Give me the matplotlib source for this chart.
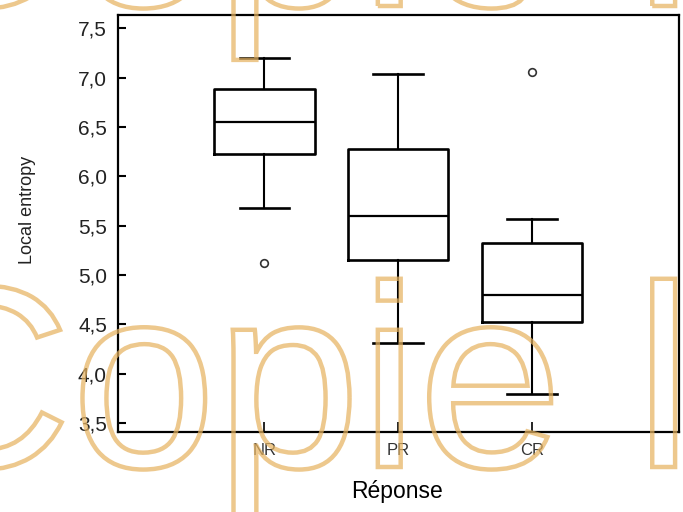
import matplotlib
matplotlib.use("Agg")
import matplotlib.pyplot as plt
import matplotlib.patheffects as pe

# Box-plot summary statistics per response group
categories = ["NR", "PR", "CR"]
whisker_low = [5.68, 4.31, 3.79]
quartile_1 = [6.23, 5.15, 4.52]
medians = [6.55, 5.60, 4.80]
quartile_3 = [6.89, 6.28, 5.32]
whisker_high = [7.20, 7.04, 5.57]
outliers = [[5.12], [], [7.06]]

y_ticks = [3.5, 4.0, 4.5, 5.0, 5.5, 6.0, 6.5, 7.0, 7.5]
y_tick_labels = [f"{v:.1f}".replace(".", ",") for v in y_ticks]

plt.rcParams["font.family"] = ["Liberation Sans", "DejaVu Sans"]

fig = plt.figure(figsize=(6.83, 5.12), dpi=100)
ax = fig.add_axes([118 / 683, 80 / 512, 561 / 683, 417 / 512])

stats = []
for i, name in enumerate(categories):
    stats.append(dict(label=name, whislo=whisker_low[i], q1=quartile_1[i],
                      med=medians[i], q3=quartile_3[i], whishi=whisker_high[i],
                      fliers=outliers[i]))

positions = list(range(1, len(categories) + 1))
ax.bxp(stats, positions=positions, widths=0.75, capwidths=0.37,
       boxprops=dict(color="black", linewidth=1.9),
       whiskerprops=dict(color="black", linewidth=1.5),
       capprops=dict(color="black", linewidth=1.9),
       medianprops=dict(color="black", linewidth=1.6),
       flierprops=dict(marker="o", markersize=5.5, markerfacecolor="none",
                       markeredgecolor="#333333", markeredgewidth=1.2))

ax.set_xlim(-0.095, 4.10)
ax.set_ylim(3.407, 7.636)
ax.set_yticks(y_ticks)
ax.set_yticklabels(y_tick_labels, fontsize=15, color="#222222")
ax.set_xticks(positions)
ax.set_xticklabels(categories, fontsize=12, color="#333333")

for sp in ax.spines.values():
    sp.set_linewidth(1.6)
    sp.set_color("black")
ax.tick_params(axis="y", direction="in", length=6, width=1.5, pad=8)
ax.tick_params(axis="x", direction="in", length=7, width=1.2, pad=8)

fig.text(28 / 683, 1 - 210 / 512, "Local entropy", rotation=90,
         ha="center", va="center", fontsize=13, color="#222222")
fig.text(397 / 683, 1 - 498 / 512, "Réponse", ha="center", va="baseline",
         fontsize=16.5, color="black")

# Outlined watermark lettering, two rows
wm_color = (0.90, 0.70, 0.38)
for base in (45, 506):
    fig.text(-116 / 683, base / 512, "Copie l", fontsize=187, ha="left",
             va="baseline", family="Liberation Sans",
             path_effects=[pe.PathPatchEffect(edgecolor=wm_color, facecolor="none",
                                              linewidth=3.2, alpha=0.72)])

fig.savefig("out.png", dpi=100)
